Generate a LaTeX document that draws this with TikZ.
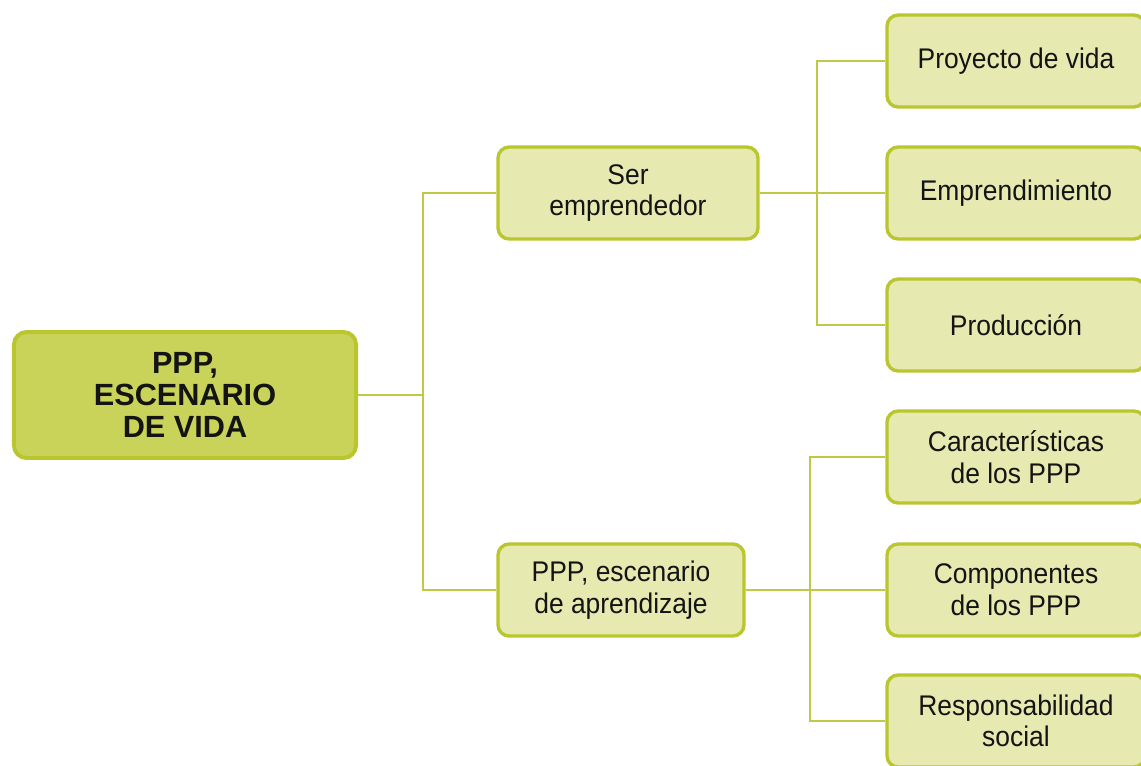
\documentclass[tikz,border=0pt]{standalone}
\usepackage{fontspec}
\setmainfont{Liberation Sans}
\newfontfamily\narrowfont[FakeStretch=0.93]{Liberation Sans}
\usetikzlibrary{positioning}
\definecolor{ppproot}{RGB}{201,211,90}
\definecolor{pppleaf}{RGB}{230,233,176}
\definecolor{pppedge}{RGB}{185,198,46}
\definecolor{pppline}{RGB}{190,202,70}
\definecolor{ppptext}{RGB}{20,20,20}
\tikzset{
  rootbox/.style={draw=pppedge, fill=ppproot, line width=2.8pt, rounded corners=9pt,
              minimum width=8.55cm, minimum height=3.15cm, align=center, text=ppptext,
              font=\fontsize{21.8}{23}\selectfont\bfseries},
  subbox/.style={draw=pppedge, fill=pppleaf, line width=2.4pt, rounded corners=8pt,
              minimum height=2.3cm, align=center, text=ppptext,
              font=\narrowfont\fontsize{20.2}{22.5}\selectfont},
  leafbox/.style={subbox, minimum width=6.45cm},
  link/.style={pppline, line width=2pt},
}

\begin{document}
\begin{tikzpicture}[x=0.025cm, y=-0.025cm]
  \useasboundingbox (0,0) rectangle (1141,765);
  % root and second level
  \node[rootbox] (root) at (185,395) {PPP,\\ESCENARIO\\DE VIDA};
  \node[subbox, minimum width=6.5cm] (ser) at (628,193) {Ser\\emprendedor};
  \node[subbox, minimum width=6.15cm] (apr) at (621,590) {PPP, escenario\\de aprendizaje};
  % third level
  \node[leafbox] (proy) at (1016,61) {Proyecto de vida};
  \node[leafbox] (empr) at (1016,193) {Emprendimiento};
  \node[leafbox] (prod) at (1016,325) {Producción};
  \node[leafbox] (cara) at (1016,457) {Características\\de los PPP};
  \node[leafbox] (comp) at (1016,590) {Componentes\\de los PPP};
  \node[leafbox] (resp) at (1016,721) {Responsabilidad\\social};
  % connectors
  \coordinate (ja) at (423,395);
  \coordinate (jb) at (817,193);
  \coordinate (jc) at (810,590);
  \draw[link] (root) -- (ja) |- (ser);
  \draw[link] (ja) |- (apr);
  \draw[link] (ser) -- (jb) |- (proy);
  \draw[link] (jb) |- (empr);
  \draw[link] (jb) |- (prod);
  \draw[link] (apr) -- (jc) |- (cara);
  \draw[link] (jc) |- (comp);
  \draw[link] (jc) |- (resp);
\end{tikzpicture}
\end{document}
